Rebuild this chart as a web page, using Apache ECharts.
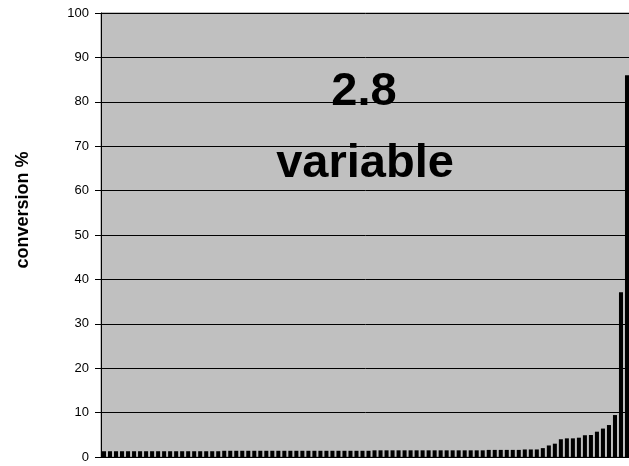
<!DOCTYPE html>
<html>
<head>
<meta charset="utf-8">
<script src="https://cdn.jsdelivr.net/npm/echarts@6/dist/echarts.min.js"></script>
<style>html,body{margin:0;padding:0;background:#fff}#c{width:629px;height:466px}</style>
</head>
<body>
<div id="c"></div>
<script>
// categories: 88 samples (no labels shown)
var categories = [];
for (var i = 1; i <= 88; i++) categories.push(String(i));
// conversion % values
var lowValues = [
  1.3,1.3,1.3,1.3,1.3,1.3,1.3,1.3,1.3,1.3,
  1.3,1.3,1.3,1.3,1.3,1.3,1.3,1.3,1.3,1.3,
  1.4,1.4,1.4,1.4,1.4,1.4,1.4,1.4,1.4,1.4,
  1.4,1.4,1.4,1.4,1.4,1.4,1.4,1.4,1.4,1.4,
  1.4,1.4,1.4,1.4,1.4,1.5,1.5,1.5,1.5,1.5,
  1.5,1.5,1.5,1.5,1.5,1.5,1.5,1.5,1.5,1.5,
  1.5,1.5,1.5,1.5,1.6,1.6,1.6,1.6,1.6,1.6
];
var highValues = [1.7,1.7,1.7,2.0,2.6,3.0,4.0,4.2,4.2,4.35,4.9,4.95,5.7,6.4,7.2,9.45,37.1,86.0];
var values = lowValues.concat(highValues);
var yTicks = [0,10,20,30,40,50,60,70,80,90,100];
var titleLine1 = '2.8';
var titleLine2 = 'variable';
var yName = 'conversion %';

var chart = echarts.init(document.getElementById('c'), null, {renderer: 'canvas'});
chart.setOption({
  animation: false,
  backgroundColor: '#ffffff',
  grid: {left: 101, top: 13, width: 529, height: 444, show: true, backgroundColor: '#c0c0c0', borderColor: '#808080', borderWidth: 1, outerBoundsMode: 'none'},
  xAxis: {
    type: 'category', data: categories,
    axisLine: {show: true, lineStyle: {color: '#000', width: 1}},
    axisTick: {show: false}, axisLabel: {show: false}, splitLine: {show: false}
  },
  yAxis: {
    type: 'value', min: yTicks[0], max: yTicks[yTicks.length - 1], interval: 10,
    axisLine: {show: true, lineStyle: {color: '#000', width: 1}},
    axisTick: {show: true, length: 6, lineStyle: {color: '#000'}},
    axisLabel: {color: '#000', fontFamily: 'Liberation Sans, Arial', fontSize: 13, margin: 12},
    splitLine: {show: true, lineStyle: {color: '#000', width: 1}}
  },
  series: [{
    type: 'bar', data: values, barCategoryGap: '33%',
    itemStyle: {color: '#000'}
  }],
  graphic: [
    {type: 'text', position: [364, 116], style: {text: titleLine1, x: 0, y: 0, font: 'bold 47px Liberation Sans, Arial', fill: '#000', textAlign: 'center', textVerticalAlign: 'bottom'}},
    {type: 'text', position: [365, 188], style: {text: titleLine2, x: 0, y: 0, font: 'bold 47px Liberation Sans, Arial', fill: '#000', textAlign: 'center', textVerticalAlign: 'bottom'}},
    {type: 'text', rotation: Math.PI / 2, position: [23, 210], style: {text: yName, x: 0, y: 0, font: 'bold 18px Liberation Sans, Arial', fill: '#000', textAlign: 'center', textVerticalAlign: 'middle'}}
  ]
});
</script>
</body>
</html>
